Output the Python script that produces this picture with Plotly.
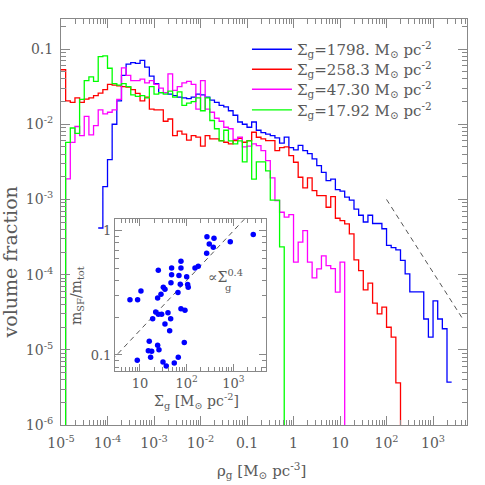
import numpy as np
import plotly.graph_objects as go

# ---------------- data ----------------
BIN_DEX = 0.1  # histogram bin width in log10(rho_g)

# log10(volume fraction) for consecutive 0.1-dex bins of rho_g [M_sun pc^-3]
blue_first_bin = -4.2
blue_log_vf = [-3.38, -2.83, -2.47, -2.00, -1.69, -1.35, -1.20, -1.18, -1.19, -1.15,
               -1.24, -1.36, -1.46, -1.58, -1.58, -1.60, -1.62, -1.64, -1.65, -1.66,
               -1.64, -1.60, -1.61, -1.64, -1.68, -1.71, -1.75, -1.77, -1.82, -1.88,
               -1.97, -2.00, -2.04, -1.97, -2.08, -2.11, -2.13, -2.15, -2.18, -2.25,
               -2.17, -2.31, -2.34, -2.28, -2.35, -2.39, -2.46, -2.55, -2.64, -2.75,
               -2.73, -2.87, -2.89, -2.97, -3.01, -3.13, -3.21, -3.30, -3.21, -3.32,
               -3.32, -3.39, -3.61, -3.64, -3.67, -3.81, -3.99, -4.23, -4.23, -4.23,
               -4.59, -4.83, -4.35, -4.59, -4.72, -5.43]

red_first_bin = -5.0
red_log_vf = [-1.275, -1.69, -1.71, -1.65, -1.71, -1.665, -1.65, -1.62, -1.585, -1.54,
              -1.47, -1.48, -1.49, -1.50, -1.505, -1.54, -1.59, -1.69, -1.64, -1.80,
              -1.81, -1.81, -1.96, -1.93, -2.15, -2.09, -2.13, -2.21, -2.15, -2.17,
              -2.29, -2.15, -2.195, -2.195, -2.217, -2.239, -2.261, -2.217, -2.186, -2.239,
              -2.217, -2.106, -2.173, -2.195, -2.217, -2.217, -2.35, -2.31, -2.30, -2.416,
              -2.505, -2.705, -2.846, -2.713, -2.882, -2.948, -2.948, -3.104, -2.962, -3.25,
              -3.281, -3.325, -3.458, -3.804, -3.946, -4.203, -4.114, -4.38, -4.522, -4.433,
              -4.70, -4.83, -5.44]

magenta_first_bin = -4.9
magenta_log_vf = [-2.727, -2.24, -2.03, -2.15, -1.894, -2.142, -2.018, -1.81, -1.863, -1.84,
                  -1.81, -1.67, -1.25, -1.35, -1.42, -1.42, -1.40, -1.45, -1.42, -1.47,
                  -1.52, -1.58, -1.33, -1.55, -1.50, -1.45, -1.43, -1.47, -1.80, -1.42,
                  -1.80, -1.84, -1.92, -1.96, -2.04, -2.06, -2.20, -2.17, -2.30, -2.29,
                  -2.261, -2.283, -2.35, -2.483, -2.713, -3.015, -3.17, -3.236, -3.201, -3.835,
                  -3.569, -3.414, -3.835, -4.043, -3.924, -3.75, -3.88, -3.92, -4.234, -3.835]

green_first_bin = -4.9
green_log_vf = [-2.24, -2.05, -2.12, -1.67, -1.42, -1.37, -1.43, -1.10, -1.09, -1.255,
                -1.46, -1.48, -1.46, -1.50, -1.61, -1.63, -1.62, -1.65, -1.50, -1.60,
                -1.58, -1.60, -1.56, -1.64, -1.57, -1.75, -1.72, -1.70, -1.65, -1.82,
                -1.65, -1.95, -2.06, -2.22, -2.08, -2.22, -2.26, -2.22, -2.50, -2.22,
                -2.73, -2.50, -2.50, -2.62, -3.01, -3.01, -3.63]

sigma_g_labels = ["1798.", "258.3", "47.30", "17.92"]

# dashed power-law guide in the main panel
tail_rho = [100.0, 4500.0]
tail_vf_at_100 = 1.0e-3
tail_slope = -0.97

# inset: star-forming mass fraction vs gas surface density
inset_sigma = [6.1, 8.9, 10.5, 8.75, 15.8, 15.1, 17.8, 16.9, 23.9, 25.5,
               31.1, 36.6, 54.3, 66.1, 88.9, 18.7, 21.7, 24.7, 29.1, 39.8,
               45.4, 34.3, 43.2, 23.9, 28.2, 31.6, 34.3, 24.7, 47.6, 47.6,
               46.1, 65.1, 73.0, 68.4, 75.5, 75.5, 100.0, 105.0, 108.0, 75.5,
               92.0, 151.0, 177.0, 268.0, 272.0, 305.0, 385.0, 372.0, 859.0, 2670.0]
inset_msf = [0.279, 0.279, 0.328, 0.0906, 0.129, 0.108, 0.107, 0.0958, 0.120, 0.110,
             0.0879, 0.0815, 0.0862, 0.0958, 0.126, 0.196, 0.222, 0.213, 0.213, 0.219,
             0.196, 0.178, 0.157, 0.288, 0.308, 0.352, 0.339, 0.482, 0.503, 0.442,
             0.381, 0.318, 0.372, 0.436, 0.503, 0.569, 0.426, 0.369, 0.352, 0.236,
             0.229, 0.503, 0.519, 0.661, 0.895, 0.785, 0.873, 0.739, 0.815, 0.933]
guide_sigma = [1.0, 1.0e4]
guide_norm = 0.063
guide_slope = 0.4

# ---------------- figure ----------------
FONT = "DejaVu Serif"
TXT = "#5a5a5a"
AX = "#888888"
FLOOR = 1e-9


def step_xy(first, logs, drop_start, drop_end):
    edges = first + BIN_DEX * np.arange(len(logs) + 1)
    x = list(10.0 ** edges)
    y = list(10.0 ** np.array(logs)) + [10.0 ** logs[-1]]
    if drop_start:
        x = [x[0]] + x
        y = [FLOOR] + y
    if drop_end:
        x = x + [x[-1]]
        y = y + [FLOOR]
    return x, y


series = [
    (blue_first_bin, blue_log_vf, "#0000ff", False, False),
    (red_first_bin, red_log_vf, "#ff0000", False, True),
    (magenta_first_bin, magenta_log_vf, "#ff00ff", True, True),
    (green_first_bin, green_log_vf, "#00ff00", True, True),
]
legend_ids = ["legend", "legend2", "legend3", "legend4"]

fig = go.Figure()
for (first, logs, col, ds, de), lab, lid in zip(series, sigma_g_labels, legend_ids):
    x, y = step_xy(first, logs, ds, de)
    fig.add_trace(go.Scatter(
        x=x, y=y, mode="lines", line=dict(color=col, width=1.3, shape="hv"),
        name="Σ<sub>g</sub>=" + lab + " M<sub>⊙</sub> pc<sup>-2</sup>",
        legend=lid, xaxis="x", yaxis="y"))

tx = np.array(tail_rho)
fig.add_trace(go.Scatter(
    x=tx, y=tail_vf_at_100 * (tx / 100.0) ** tail_slope, mode="lines",
    line=dict(color="#555555", width=1, dash="5px,4px"), showlegend=False,
    xaxis="x", yaxis="y"))

# inset
gx = np.array(guide_sigma)
fig.add_trace(go.Scatter(
    x=gx, y=guide_norm * gx ** guide_slope, mode="lines",
    line=dict(color="#555555", width=1, dash="5px,4px"), showlegend=False,
    xaxis="x2", yaxis="y2"))
fig.add_trace(go.Scatter(
    x=inset_sigma, y=inset_msf, mode="markers",
    marker=dict(color="#0000ff", size=5.5), showlegend=False,
    xaxis="x2", yaxis="y2"))

axis_common = dict(
    type="log", showgrid=False, zeroline=False, showline=True, linecolor=AX,
    linewidth=1, mirror="allticks", ticks="inside", tickcolor=AX, tickwidth=1,
    tickfont=dict(family=FONT, size=14, color=TXT),
)

main_xvals = [1e-5, 1e-4, 1e-3, 1e-2, 0.1, 1, 10, 100, 1000]
main_xtext = ["10<sup>-5</sup>", "10<sup>-4</sup>", "10<sup>-3</sup>", "10<sup>-2</sup>",
              "0.1", "1", "10", "10<sup>2</sup>", "10<sup>3</sup>"]
main_yvals = [1e-6, 1e-5, 1e-4, 1e-3, 1e-2, 0.1]
main_ytext = ["10<sup>-6</sup>", "10<sup>-5</sup>", "10<sup>-4</sup>", "10<sup>-3</sup>",
              "10<sup>-2</sup>", "0.1"]

legend_common = dict(xanchor="left", yanchor="top", bgcolor="rgba(0,0,0,0)", borderwidth=0,
                     font=dict(family=FONT, size=15, color=TXT), itemwidth=40)
legend_x = 0.458
legend_tops = [0.9655, 0.9163, 0.8670, 0.8160]

fig.update_layout(
    width=485, height=485,
    margin=dict(l=61, r=18, t=19, b=60),
    paper_bgcolor="white", plot_bgcolor="white",
    font=dict(family=FONT, color=TXT),
    xaxis=dict(axis_common, range=[-5, 3.73], tickvals=main_xvals, ticktext=main_xtext,
               ticklen=9, ticklabelstandoff=5,
               minor=dict(ticks="inside", ticklen=5, tickcolor=AX, dtick="D1", showgrid=False),
               domain=[0, 1], anchor="y"),
    yaxis=dict(axis_common, range=[-6, -0.6], tickvals=main_yvals, ticktext=main_ytext,
               ticklen=9, ticklabelstandoff=4,
               minor=dict(ticks="inside", ticklen=5, tickcolor=AX, dtick="D1", showgrid=False),
               domain=[0, 1], anchor="x"),
    xaxis2=dict(axis_common, range=[0.465, 3.70], tickvals=[10, 100, 1000],
                ticktext=["10", "10<sup>2</sup>", "10<sup>3</sup>"],
                tickfont=dict(family=FONT, size=13, color=TXT), ticklen=7,
                minor=dict(ticks="inside", ticklen=4, tickcolor=AX, dtick="D1", showgrid=False),
                domain=[0.133, 0.505], anchor="y2"),
    yaxis2=dict(axis_common, range=[-1.129, 0.094], tickvals=[0.1, 1], ticktext=["0.1", "1"],
                tickfont=dict(family=FONT, size=13, color=TXT), ticklen=7,
                minor=dict(ticks="inside", ticklen=4, tickcolor=AX, dtick="D1", showgrid=False),
                domain=[0.133, 0.507], anchor="x2"),
    legend=dict(legend_common, x=legend_x, y=legend_tops[0]),
    legend2=dict(legend_common, x=legend_x, y=legend_tops[1]),
    legend3=dict(legend_common, x=legend_x, y=legend_tops[2]),
    legend4=dict(legend_common, x=legend_x, y=legend_tops[3]),
    showlegend=True,
)

ann = dict(xref="paper", yref="paper", showarrow=False, font=dict(family=FONT, color=TXT))
fig.add_annotation(ann, x=0.495, y=-0.113, text="ρ<sub>g</sub> [M<sub>⊙</sub> pc<sup>-3</sup>]",
                   font=dict(family=FONT, size=15, color=TXT), xanchor="center", yanchor="middle",
                   borderpad=0)
fig.add_annotation(ann, x=-0.126, y=0.40, text="volume fraction", textangle=-90,
                   font=dict(family=FONT, size=19, color=TXT), xanchor="center", yanchor="middle")
fig.add_annotation(ann, x=0.333, y=0.059, text="Σ<sub>g</sub> [M<sub>⊙</sub> pc<sup>-2</sup>]",
                   font=dict(family=FONT, size=14, color=TXT), xanchor="center", yanchor="middle")
fig.add_annotation(ann, x=0.039, y=0.32, text="m<sub>SF</sub>/m<sub>tot</sub>", textangle=-90,
                   font=dict(family=FONT, size=14, color=TXT), xanchor="center", yanchor="middle")
fig.add_annotation(ann, x=(206 - 61) / 406, y=(425 - 276) / 406, text="∝Σ<sup>0.4</sup>",
                   font=dict(family=FONT, size=14, color=TXT), xanchor="left", yanchor="middle")
fig.add_annotation(ann, x=(224 - 61) / 406, y=(425 - 287) / 406, text="g",
                   font=dict(family=FONT, size=10, color=TXT), xanchor="left", yanchor="middle",
                   borderpad=0)

# remove the browser's default page margin so the figure sits at the window's corner
fig.write_html("out.html", config={"displayModeBar": False},
               post_script="document.body.style.margin='0px';")
